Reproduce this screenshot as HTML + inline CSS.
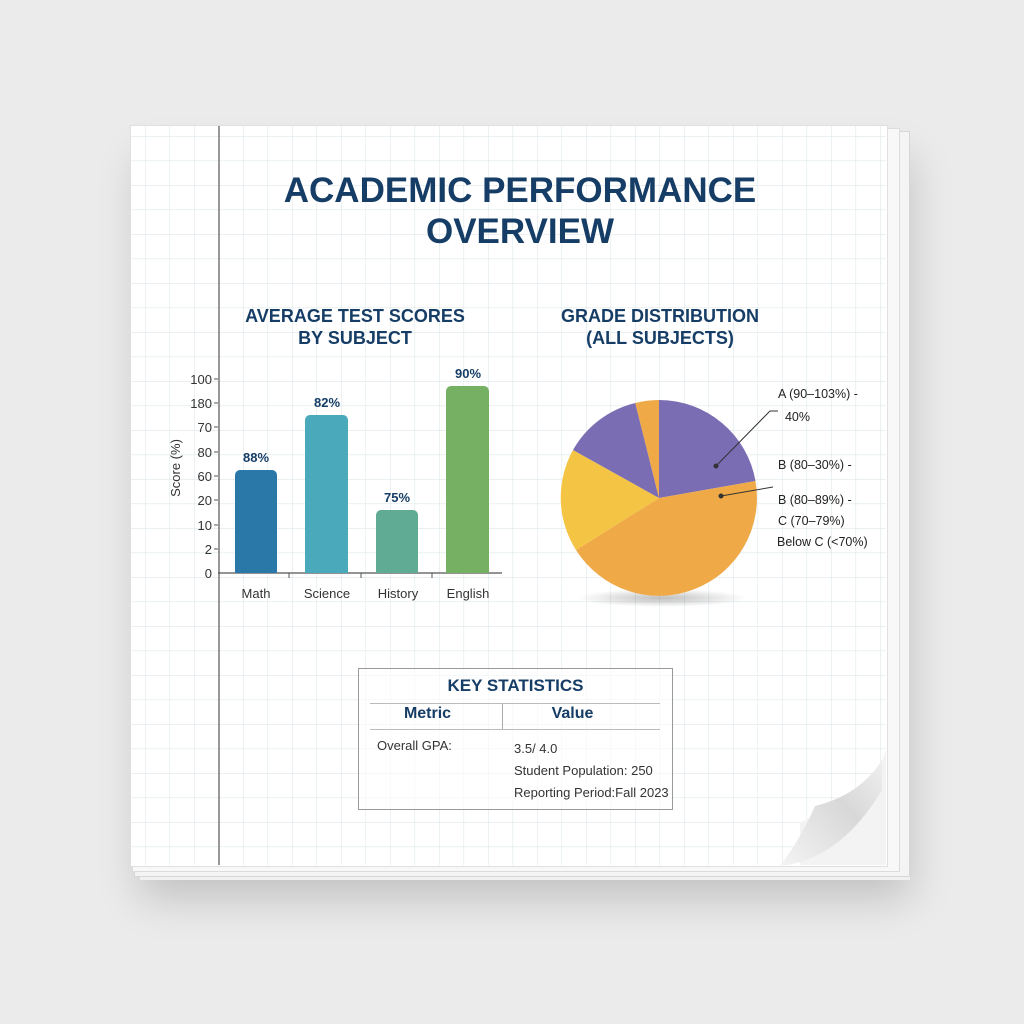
<!DOCTYPE html>
<html><head><meta charset="utf-8"><style>
body{margin:0;width:1024px;height:1024px;background:#ebebeb;overflow:hidden;position:relative;font-family:"Liberation Sans",sans-serif}
.abs{position:absolute}
.t{position:absolute;color:#163d66;font-weight:bold;text-align:center}
</style></head><body>
<div class="abs" style="left:140px;top:140px;width:770px;height:740px;box-shadow:0 18px 40px rgba(0,0,0,0.18);background:#f0f0f0"></div>
<div class="abs" style="left:134px;top:131px;width:774px;height:744px;background:#f4f4f4;border:1px solid #d6d6d6"></div>
<div class="abs" style="left:132px;top:128px;width:766px;height:742px;background:#f8f8f8;border:1px solid #dcdcdc"></div>
<div class="abs" style="left:130px;top:125px;width:756px;height:740px;background:#fff;border:1px solid #e0e0e0"></div>
<svg class="abs" style="left:0;top:0" width="1024" height="1024">
<defs><pattern id="g" x="243" y="185" width="24.5" height="24.5" patternUnits="userSpaceOnUse"><path d="M0 0H24.5M0 0V24.5" stroke="#dde7ea" stroke-width="1.2" fill="none"/></pattern>
<radialGradient id="sh"><stop offset="0" stop-color="#000" stop-opacity="0.25"/><stop offset="1" stop-color="#000" stop-opacity="0"/></radialGradient>
<linearGradient id="curl" x1="0" y1="1" x2="1" y2="0"><stop offset="0" stop-color="#f4f4f4"/><stop offset="0.6" stop-color="#d8d8d8"/><stop offset="1" stop-color="#f0f0f0"/></linearGradient></defs>
<rect x="131" y="126" width="755" height="739" fill="url(#g)"/>
<line x1="219" y1="126" x2="219" y2="865" stroke="#777" stroke-width="1.5"/>
<!-- page curl -->
<path d="M886 750 Q870 800 800 822 L800 865 L886 865Z" fill="#f3f3f3"/>
<path d="M882 760 Q860 795 815 806 Q800 840 780 866 Q840 860 882 790Z" fill="url(#curl)"/>
<!-- bars -->
<line x1="218" y1="573" x2="502" y2="573" stroke="#555" stroke-width="1.2"/>
<g stroke="#555">
<line x1="214" y1="379" x2="218" y2="379"/><line x1="214" y1="403" x2="218" y2="403"/><line x1="214" y1="427" x2="218" y2="427"/><line x1="214" y1="452" x2="218" y2="452"/><line x1="214" y1="476" x2="218" y2="476"/><line x1="214" y1="500" x2="218" y2="500"/><line x1="214" y1="525" x2="218" y2="525"/><line x1="214" y1="549" x2="218" y2="549"/>
<line x1="289" y1="573" x2="289" y2="578"/><line x1="361" y1="573" x2="361" y2="578"/><line x1="432" y1="573" x2="432" y2="578"/>
</g>
<path d="M235 573V475a5 5 0 0 1 5-5h32a5 5 0 0 1 5 5V573Z" fill="#2a78a8"/>
<path d="M305 573V420a5 5 0 0 1 5-5h33a5 5 0 0 1 5 5V573Z" fill="#4aa9bb"/>
<path d="M376 573V515a5 5 0 0 1 5-5h32a5 5 0 0 1 5 5V573Z" fill="#5fab94"/>
<path d="M446 573V391a5 5 0 0 1 5-5h33a5 5 0 0 1 5 5V573Z" fill="#76b063"/>
<!-- pie -->
<ellipse cx="662" cy="598" rx="85" ry="9" fill="url(#sh)"/>
<path d="M659 498L659 400A98 98 0 0 1 755.5 481Z" fill="#7a6db3"/>
<path d="M659 498L755.5 481A98 98 0 0 1 576 550Z" fill="#efa947"/>
<path d="M659 498L576 550A98 98 0 0 1 573 450Z" fill="#f4c544"/>
<path d="M659 498L573 450A98 98 0 0 1 635.3 403Z" fill="#7a6db3"/>
<path d="M659 498L635.3 403A98 98 0 0 1 659 400Z" fill="#efa947"/>
<g stroke="#333" stroke-width="1" fill="#333"><polyline points="716,466 770,411 778,411" fill="none"/><circle cx="716" cy="466" r="2"/><line x1="721" y1="496" x2="773" y2="487"/><circle cx="721" cy="496" r="2"/></g>
<g font-size="13" fill="#333" text-anchor="end" font-family="Liberation Sans, sans-serif">
<text x="212" y="384">100</text><text x="212" y="408">180</text><text x="212" y="432">70</text><text x="212" y="457">80</text><text x="212" y="481">60</text><text x="212" y="505">20</text><text x="212" y="530">10</text><text x="212" y="554">2</text><text x="212" y="578">0</text>
</g>
<text transform="translate(180,468) rotate(-90)" text-anchor="middle" font-size="13" fill="#333" font-family="Liberation Sans, sans-serif">Score (%)</text>
</svg>
<div class="t" style="left:200px;top:170px;width:640px;font-size:35px;line-height:41px">ACADEMIC PERFORMANCE<br>OVERVIEW</div>
<div class="t" style="left:220px;top:305px;width:270px;font-size:18px;line-height:22px">AVERAGE TEST SCORES<br>BY SUBJECT</div>
<div class="t" style="left:530px;top:305px;width:260px;font-size:18px;line-height:22px">GRADE DISTRIBUTION<br>(ALL SUBJECTS)</div>
<div class="t" style="left:236px;top:450px;width:40px;font-size:13px">88%</div>
<div class="t" style="left:306px;top:395px;width:42px;font-size:13px">82%</div>
<div class="t" style="left:377px;top:490px;width:40px;font-size:13px">75%</div>
<div class="t" style="left:447px;top:366px;width:42px;font-size:13px">90%</div>
<div class="abs" style="top:586px;font-size:13px;color:#333;left:226px;width:60px;text-align:center">Math</div>
<div class="abs" style="top:586px;font-size:13px;color:#333;left:297px;width:60px;text-align:center">Science</div>
<div class="abs" style="top:586px;font-size:13px;color:#333;left:368px;width:60px;text-align:center">History</div>
<div class="abs" style="top:586px;font-size:13px;color:#333;left:438px;width:60px;text-align:center">English</div>
<div class="abs" style="left:778px;top:383px;font-size:12.5px;color:#222;line-height:23px">A (90–103%) -<br>&nbsp;&nbsp;40%</div>
<div class="abs" style="left:778px;top:458px;font-size:12.5px;color:#222">B (80–30%) -</div>
<div class="abs" style="left:778px;top:490px;font-size:12.5px;color:#222;line-height:21px">B (80–89%) -<br>C (70–79%)<br><span style="margin-left:-1px">Below C (&lt;70%)</span></div>
<div class="abs" style="left:358px;top:668px;width:313px;height:140px;border:1.5px solid #999;background:rgba(255,255,255,0.6)"></div>
<div class="t" style="left:358px;top:676px;width:315px;font-size:17px">KEY STATISTICS</div>
<div class="abs" style="left:370px;top:703px;width:290px;border-top:1px solid #bbb"></div>
<div class="abs" style="left:502px;top:704px;height:26px;border-left:1px solid #aaa"></div>
<div class="abs" style="left:370px;top:729px;width:290px;border-top:1px solid #bbb"></div>
<div class="t" style="left:370px;top:705px;width:115px;font-size:16px">Metric</div>
<div class="t" style="left:510px;top:705px;width:125px;font-size:16px">Value</div>
<div class="abs" style="left:377px;top:738px;font-size:13px;color:#333">Overall GPA:</div>
<div class="abs" style="left:514px;top:738px;font-size:13px;color:#333;line-height:22px">3.5/ 4.0<br>Student Population: 250<br>Reporting Period:Fall 2023</div>
</body></html>
